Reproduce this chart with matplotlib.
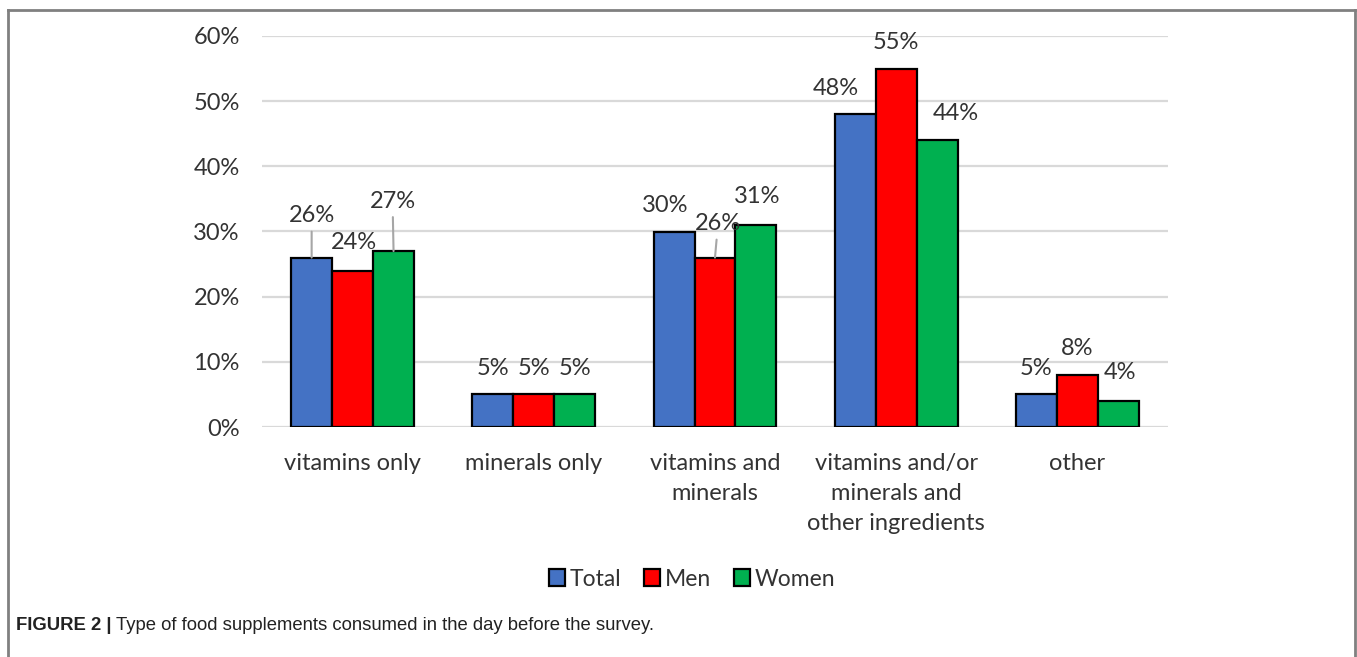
import matplotlib
matplotlib.use("Agg")
import matplotlib.pyplot as plt
import numpy as np
from matplotlib.lines import Line2D
from matplotlib.ticker import FuncFormatter

categories = ["vitamins only", "minerals only", "vitamins and\nminerals",
              "vitamins and/or\nminerals and\nother ingredients", "other"]
series_names = ["Total", "Men", "Women"]
total = [26, 5, 30, 48, 5]
men = [24, 5, 26, 55, 8]
women = [27, 5, 31, 44, 4]
colors = ["#4472C4", "#FF0000", "#00B050"]

# label offsets in pixels (dx, dy) and leader flags
label_offsets = {
    (0, 0): (0, 42, True), (0, 1): (1, 28, False), (0, 2): (-1, 50, True),
    (2, 0): (-9, 26, False), (2, 1): (3, 34, True), (2, 2): (1, 28, False),
    (3, 0): (-19, 26, False), (3, 2): (19, 27, False),
    (4, 2): (2, 28, False),
}

plt.rcParams['font.family'] = ['Lato', 'DejaVu Sans']
FS = 17
TC = "#333333"

fig = plt.figure(figsize=(13.57, 6.57), dpi=100)
ax = fig.add_axes([262/1357, 1-427/657, (1168-262)/1357, (427-36)/657])

data = [total, men, women]
x = np.arange(len(categories))
w = 0.226
for i, (name, vals, c) in enumerate(zip(series_names, data, colors)):
    xs = x + (i - 1) * w
    ax.bar(xs, [v/100 for v in vals], width=w, color=c, edgecolor="black",
           linewidth=1.6, label=name, zorder=3)
    for j, (xx, v) in enumerate(zip(xs, vals)):
        dx, dy, lead = label_offsets.get((j, i), (0, 26, False))
        kw = {}
        if lead:
            kw["arrowprops"] = dict(arrowstyle="-", color="#a6a6a6", lw=1.5,
                                    shrinkA=2, shrinkB=0)
        ax.annotate(f"{v}%", xy=(xx, v/100), xytext=(dx, dy),
                    textcoords="offset pixels", ha="center", va="center",
                    fontsize=FS, color=TC, zorder=4, **kw)

ax.set_xlim(-0.5, len(categories) - 0.5)
ax.set_ylim(0, 0.6)
ax.set_yticks(np.arange(0, 0.61, 0.1))
ax.yaxis.set_major_formatter(FuncFormatter(lambda v, p: f"{round(v*100)}%"))
ax.set_xticks(x)
ax.set_xticklabels(categories, fontsize=FS, color=TC, linespacing=1.52,
                   va="top")
ax.tick_params(axis="x", length=0, pad=19)
ax.tick_params(axis="y", length=0, pad=16, labelsize=FS, labelcolor=TC)
for s in ax.spines.values():
    s.set_visible(False)
ax.grid(axis="y", color="#d9d9d9", linewidth=1.6, zorder=0)
ax.set_axisbelow(True)

leg = fig.legend(loc="center", bbox_to_anchor=(692/1357, 1-579/657), ncol=3,
                 frameon=False, fontsize=16.5, handlelength=0.7, handleheight=0.7,
                 handletextpad=0.2, columnspacing=1.0, labelcolor=TC)
for h in leg.legend_handles:
    h.set_linewidth(1.6)

# frame
fc = "#808080"
fig.add_artist(Line2D([8/1357, 1355/1357], [1-10/657, 1-10/657], color=fc, lw=2,
                      transform=fig.transFigure))
fig.add_artist(Line2D([8/1357, 8/1357], [0, 1-10/657], color=fc, lw=2,
                      transform=fig.transFigure))
fig.add_artist(Line2D([1355/1357, 1355/1357], [0, 1-10/657], color=fc, lw=2,
                      transform=fig.transFigure))

t1 = fig.text(16/1357, 1-626/657, "FIGURE 2 |", fontsize=13.3, fontweight="bold",
              family="Liberation Sans", va="center", ha="left", color="#222222")
fig.canvas.draw()
bb = t1.get_window_extent()
fig.text((bb.x1 + 4)/1357, 1-626/657, "Type of food supplements consumed in the day before the survey.",
         fontsize=13.3, family="Liberation Sans", va="center", ha="left", color="#222222")

fig.savefig("out.png", dpi=100)
